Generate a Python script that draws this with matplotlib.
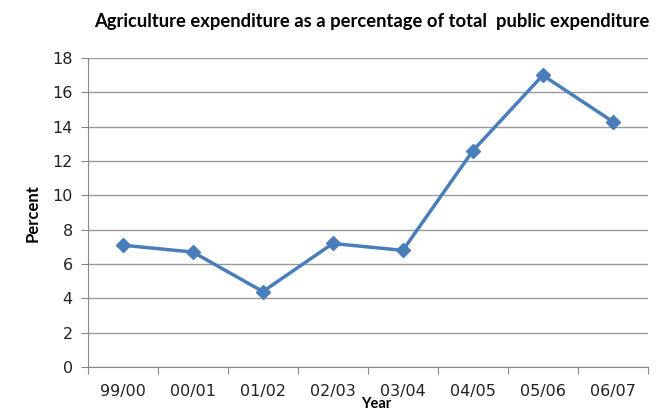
import matplotlib
matplotlib.use('Agg')
import matplotlib.pyplot as plt

years = ['99/00', '00/01', '01/02', '02/03', '03/04', '04/05', '05/06', '06/07']
percent = [7.1, 6.7, 4.4, 7.2, 6.8, 12.6, 17.0, 14.3]

fig = plt.figure(figsize=(6.61, 4.12), dpi=100)
ax = fig.add_axes([0.133, 0.109, 0.847, 0.750])

x = list(range(len(years)))
ax.plot(x, percent, color='#4a7ebb', linewidth=2.5, marker='D', markersize=7,
        markerfacecolor='#4a7ebb', markeredgecolor='#4a7ebb')

ax.set_xlim(-0.5, len(years) - 0.5)
ax.set_ylim(0, 18)
ax.set_yticks(range(0, 19, 2))
# category boundaries get the tick marks, labels sit in the middle
ax.set_xticks([i - 0.5 for i in range(len(years) + 1)])
ax.set_xticklabels([])
ax.set_xticks(x, minor=True)
ax.set_xticklabels(years, minor=True)
ax.tick_params(axis='x', which='minor', length=0, pad=12, labelsize=11.5, colors='#222222')
ax.tick_params(axis='x', which='major', length=5, color='#888888')
ax.tick_params(axis='y', length=5, color='#888888', labelsize=11.5, labelcolor='#222222', pad=6)

ax.grid(axis='y', color='#999999', linewidth=1)
ax.set_axisbelow(True)
for s in ['top', 'right']:
    ax.spines[s].set_visible(False)
for s in ['left', 'bottom']:
    ax.spines[s].set_color('#888888')

ax.set_ylabel('Percent', fontsize=12, family='Lato', fontweight='bold', labelpad=8)
fig.text(0.569, 0.002, 'Year', ha='center', va='bottom', fontsize=10.5, family='Lato', fontweight='bold')
fig.text(0.563, 0.947, 'Agriculture expenditure as a percentage of total  public expenditure',
         ha='center', va='center', fontsize=13.2, family='Lato', fontweight='bold')

fig.savefig('out.png', dpi=100)
